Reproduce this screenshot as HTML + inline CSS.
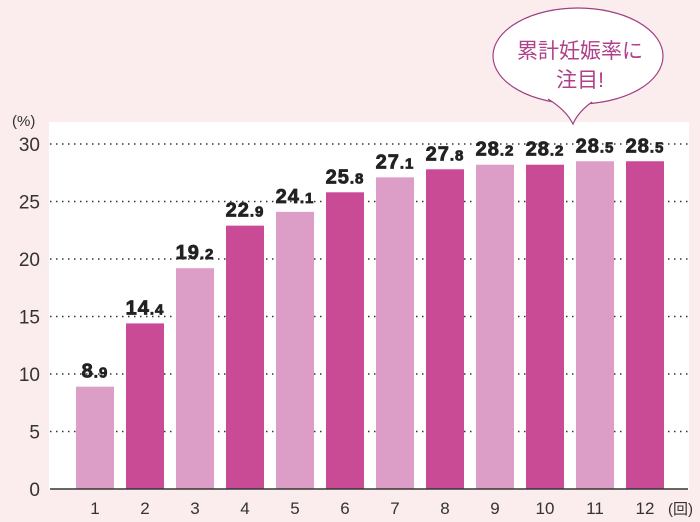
<!DOCTYPE html>
<html><head><meta charset="utf-8"><style>
body{margin:0;background:#fbeced;}
svg{display:block}
text{font-family:"Liberation Sans","Noto Sans CJK JP",sans-serif}
</style></head><body>
<svg id="c" width="700" height="522" viewBox="0 0 700 522">
<rect x="0" y="0" width="700" height="522" fill="#fbeced"/>
<rect x="49" y="122" width="640" height="368" fill="#fff"/>
<g id="grid"></g><g id="bars"></g><g id="labels"></g>
<line x1="50" y1="489" x2="688" y2="489" stroke="#333" stroke-width="1.5"/>
<text x="12" y="126" font-size="15" fill="#333">(%)</text>
<text x="668" y="514" font-size="15" fill="#333">(回)</text>
<g>
<ellipse cx="578" cy="56" rx="85" ry="48" fill="#fff" stroke="#a04080" stroke-width="1.2"/>
<path d="M548,99 Q566,110 573,124 Q578,112 592,102" fill="#fff" stroke="#a04080" stroke-width="1.2"/>
<path d="M550,97 Q570,104 590,101 L588,96 L552,94 Z" fill="#fff"/>
<text x="580" y="58" font-size="21" fill="#b0408a" text-anchor="middle">累計妊娠率に</text>
<text x="580" y="87" font-size="21" fill="#b0408a" text-anchor="middle">注目!</text>
</g>
</svg>
<script>
const categories=["1","2","3","4","5","6","7","8","9","10","11","12"];
const values=[8.9,14.4,19.2,22.9,24.1,25.8,27.1,27.8,28.2,28.2,28.5,28.5];
const yTicks=[0,5,10,15,20,25,30];
const ns="http://www.w3.org/2000/svg";
const y=v=>489-v*11.5;
const x=i=>76+i*50;
const bw=38;
function mk(t,a,p){const e=document.createElementNS(ns,t);for(const k in a)e.setAttribute(k,a[k]);p.appendChild(e);return e;}
const g=document.getElementById('grid'),b=document.getElementById('bars'),l=document.getElementById('labels');
yTicks.forEach(v=>{
 if(v>0){const ln=mk('line',{x1:50,x2:688,y1:y(v),y2:y(v),stroke:'#333','stroke-width':1.5,'stroke-dasharray':'1.5 4.5'},g);
 
 }
 const t=mk('text',{x:40,y:y(v)+7,'font-size':19,fill:'#333','text-anchor':'end'},g);t.textContent=v;
 
 
});
values.forEach((v,i)=>{
 const r=mk('rect',{x:x(i),y:y(v),width:bw,height:489-y(v),fill:i%2?'#c94b96':'#dc9ec6'},b);
 
 
 const s=v.toFixed(1).split('.');
 const t=mk('text',{x:x(i)+bw/2,y:y(v)-9,'font-size':20,'font-weight':'bold',fill:'#222',stroke:'#222','stroke-width':0.8,'letter-spacing':1,'text-anchor':'middle'},l);
 t.innerHTML=s[0]+'<tspan font-size="15">.'+s[1]+'</tspan>';
 
 
 const c=mk('text',{x:x(i)+bw/2,y:514,'font-size':17,fill:'#333','text-anchor':'middle'},l);c.textContent=categories[i];
 
 
});
</script>
</body></html>
